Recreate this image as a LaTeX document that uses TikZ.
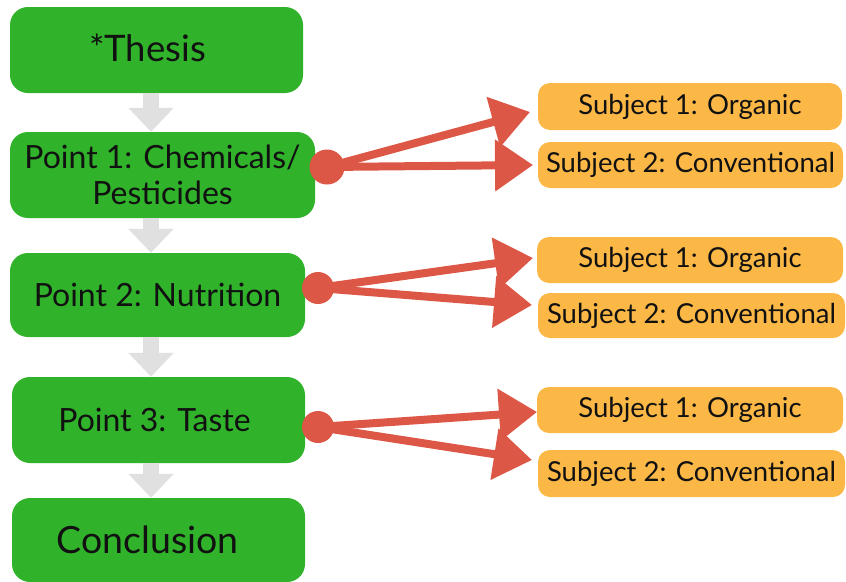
\documentclass[tikz,border=0pt]{standalone}
\usepackage{fontspec}
\setmainfont{Lato}
\usetikzlibrary{arrows.meta,calc}
\definecolor{boxgreen}{HTML}{30B22A}
\definecolor{boxorange}{HTML}{FBB847}
\definecolor{linkred}{HTML}{DD5746}
\definecolor{flowgray}{HTML}{E0E0E0}
\definecolor{ink}{HTML}{111111}
\tikzset{
  mainbox/.style={fill=boxgreen, rounded corners=18pt, inner sep=0pt, align=center,
    text=ink, font=\fontsize{32}{36}\selectfont},
  subbox/.style={fill=boxorange, rounded corners=12pt, inner sep=0pt, align=center,
    text=ink, font=\fontsize{27.5}{30}\selectfont},
  flowarrow/.style={draw=flowgray, line width=16pt,
    -{Triangle[width=44pt,length=24pt]}},
  dot/.style={circle, fill=linkred, inner sep=0pt},
  branch/.style={draw=linkred, line width=8pt,
    -{Triangle[width=50pt,length=38pt]}},
}
\begin{document}
\begin{tikzpicture}[x=1pt,y=-1pt]
\useasboundingbox (0,0) rectangle (846,581);

% main column
\node[mainbox, minimum width=293pt, minimum height=86pt,
  font=\fontsize{36.5}{40}\selectfont] (thesis) at (156.5,50)
  {\raisebox{4pt}{*Thesis}\hspace*{18pt}};
\node[mainbox, minimum width=305pt, minimum height=86pt] (p1) at (162.5,175)
  {Point 1: Chemicals/\\Pesticides};
\node[mainbox, minimum width=295pt, minimum height=84pt] (p2) at (157.5,295)
  {Point 2: Nutrition};
\node[mainbox, minimum width=293pt, minimum height=86pt] (p3) at (158.5,420)
  {Point 3: Taste\hspace*{8pt}};
\node[mainbox, minimum width=293pt, minimum height=84pt,
  font=\fontsize{37.5}{40}\selectfont] (concl) at (158.5,540) {Conclusion\hspace*{22pt}};

% flow arrows down the column
\coordinate (gx) at (151,0);
\draw[flowarrow] (thesis.south -| gx) -- (p1.north -| gx);
\draw[flowarrow] (p1.south -| gx) -- (p2.north -| gx);
\draw[flowarrow] (p2.south -| gx) -- (p3.north -| gx);
\draw[flowarrow] (p3.south -| gx) -- (concl.north -| gx);

% subject boxes
\node[subbox, minimum width=304pt, minimum height=47pt] (s1a) at (690,106.5) {Subject 1: Organic};
\node[subbox, minimum width=305pt, minimum height=46pt] (s1b) at (690.5,165) {Subject 2: Conventional};
\node[subbox, minimum width=306pt, minimum height=46pt] (s2a) at (690,260) {Subject 1: Organic};
\node[subbox, minimum width=307pt, minimum height=45pt] (s2b) at (691.5,315.5) {Subject 2: Conventional};
\node[subbox, minimum width=306pt, minimum height=46pt] (s3a) at (690,410) {Subject 1: Organic};
\node[subbox, minimum width=307pt, minimum height=47pt] (s3b) at (691.5,473.5) {Subject 2: Conventional};

% branch points and arrow tips
\coordinate (t1a) at (530,112);
\coordinate (t1b) at (533,165);
\coordinate (t2a) at (533,258);
\coordinate (t2b) at (532,305);
\coordinate (t3a) at (537,412);
\coordinate (t3b) at (532,460);

\draw[branch] (327,167) coordinate (b1) -- (t1a);
\draw[branch] (b1) -- (t1b);
\draw[branch] (318,288) coordinate (b2) -- (t2a);
\draw[branch] (b2) -- (t2b);
\draw[branch] (318,427) coordinate (b3) -- (t3a);
\draw[branch] (b3) -- (t3b);

\node[dot, minimum size=35pt] (c1) at (b1) {};
\node[dot, minimum size=32pt] (c2) at (b2) {};
\node[dot, minimum size=32pt] (c3) at (b3) {};
\end{tikzpicture}
\end{document}
